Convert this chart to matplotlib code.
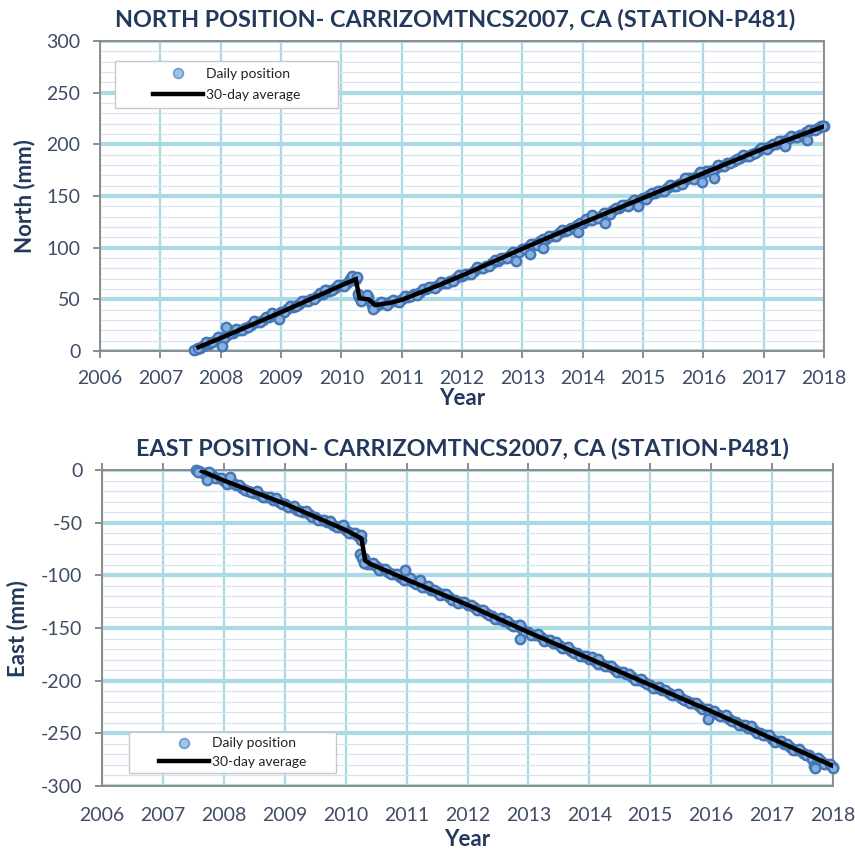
import numpy as np
import matplotlib
matplotlib.use("Agg")
import matplotlib.pyplot as plt
from matplotlib.lines import Line2D
from matplotlib.patches import Rectangle
from matplotlib.ticker import MultipleLocator

plt.rcParams['font.family'] = ['Lato', 'DejaVu Sans']

# ---------------- data ----------------
year_ticks = [2006, 2007, 2008, 2009, 2010, 2011, 2012, 2013, 2014, 2015, 2016, 2017, 2018]

# daily positions sampled every 0.1 yr (2007.6 .. 2018.0) and at the half-steps
daily_years = np.round(np.arange(2007.6, 2018.05, 0.1), 1)
daily_years_b = np.round(np.arange(2007.65, 2018.0, 0.1), 2)

north_daily = [1.5, 4.5, 7, 10,
               12.5, 15.5, 17.5, 20.5, 22.5, 25.5, 28, 30, 33, 35,
               38, 40.5, 43, 45.5, 48, 50.5, 53, 55.5, 58, 60.5,
               63.5, 66, 69, 52, 50, 45, 44.5, 46, 47.5, 48.5,
               50, 52.5, 55, 57.5, 60, 61.5, 63.5, 66, 68, 70.5,
               73, 75, 77.5, 80, 82.5, 85.5, 87.5, 90, 92.5, 95,
               98.5, 101, 103.5, 106, 108.5, 111.5, 114, 116.5, 119, 121.5,
               124, 126.5, 129, 131, 133.5, 136, 138.5, 141, 143, 145.5,
               148, 150.5, 153, 155, 157.5, 160, 162, 165, 167, 169.5,
               172, 174.5, 176.5, 179, 181.5, 184, 186.5, 189, 191, 193.5,
               196, 198, 200.5, 203, 205, 207.5, 209.5, 211.5, 213.5, 215.5, 217.5]

north_daily_b = [2.8, 8.8, 8.3, 13.3,
                 12.3, 17.9, 20.9, 20.4, 23.4, 28.9, 28, 33, 36.5, 36,
                 37.5, 43.5, 43.6, 48.5, 48.1, 50, 55.7, 59.2, 58.7, 63.7,
                 63.2, 69.3, 70, 49, 52, 42.5, 47, 45, 49, 47.5,
                 53, 53, 54.5, 60, 62, 60.5, 66.5, 66, 68, 74,
                 75, 75, 81, 80.5, 82, 88, 90, 90, 96, 96,
                 98.5, 104, 103, 108.5, 111.5, 111.5, 117.5, 117, 119, 124,
                 127.5, 126.5, 129, 134, 133, 138.5, 141.5, 140.5, 146.5, 146,
                 147, 153, 155, 155, 161, 160, 162, 167.5, 166.5, 172,
                 174.5, 174, 180, 179.5, 181.5, 186, 189.5, 188.5, 191.5, 196.5,
                 195, 200.5, 203.5, 202.5, 208.5, 207.5, 209, 214, 213.5, 217.5]

north_extra_years = [2007.55, 2007.62, 2008.03, 2008.09, 2008.96, 2009.73, 2010.18, 2010.26,
                     2010.28, 2010.33, 2010.42, 2010.53, 2012.89, 2013.13, 2013.35, 2013.93,
                     2014.15, 2014.37, 2014.92, 2015.70, 2015.94, 2015.97, 2016.18, 2017.35,
                     2017.71, 2017.99]
north_extra = [0.5, 3, 5, 23, 31, 59, 73, 72,
               55, 48, 54, 41, 87, 94, 100, 115,
               131.5, 124, 140, 167.5, 173.5, 164, 167, 198,
               204, 218]

east_daily = [-1, -3, -5, -7.5,
              -10, -12, -14.5, -17, -19.5, -22, -24, -26, -28.5, -30.5,
              -32, -35, -37.5, -40, -42, -44.5, -47, -49.5, -52, -54.5,
              -57, -60, -63, -84, -89, -91.5, -94, -96.5, -99, -101.5,
              -104, -106.5, -108.5, -111, -113.5, -116, -118, -120.5, -123, -125.5,
              -128, -130.5, -133, -135.5, -138.5, -141, -143.5, -146, -148.5, -151,
              -154, -156.5, -159, -161.5, -164, -166.5, -169, -171.5, -174, -176.5,
              -179, -181.5, -184, -186.5, -189, -191.5, -194, -196.5, -199, -201.5,
              -204, -206.5, -209, -211.5, -214, -216.5, -219, -221.5, -224, -226.5,
              -229, -231.5, -234, -236.5, -239.5, -242, -244.5, -247, -249.5, -252,
              -255, -257.5, -260, -263, -265.5, -268.5, -271, -274, -276.5, -279.5, -282]

east_daily_b = [-2.7, -1.8, -7.2, -7.3,
                -13.1, -12.3, -14, -19.2, -20.9, -20.1, -25.8, -25.5, -26.7, -31.9,
                -35.2, -34.2, -39.2, -39.2, -44.7, -47.7, -47.2, -48.7, -54.2, -54.2,
                -60, -59.5, -66, -89.5, -88.5, -95, -94, -99, -99, -104.5,
                -103, -108.5, -111.5, -110.5, -113.5, -119, -118, -123, -126, -125,
                -128, -133, -132.5, -138, -141.5, -140.5, -143.5, -148.5, -147.5, -153.5,
                -156.5, -156, -162, -161.5, -163.5, -169, -168, -173.5, -176.5, -176.5,
                -178, -184, -186, -186, -192, -191.5, -193.5, -199, -198, -203.5,
                -207, -206, -209, -214, -213, -218.5, -221.5, -221, -227, -226.5,
                -228.5, -234, -233, -238.5, -242, -242, -243.5, -249.5, -251.5, -251.5,
                -258, -257.5, -260, -265.5, -265, -270.5, -274, -273.5, -279, -279.5]

east_extra_years = [2007.55, 2007.58, 2007.72, 2008.10, 2009.96, 2010.25, 2010.24, 2010.27,
                    2010.30, 2010.97, 2011.22, 2012.86, 2012.86, 2014.14, 2015.95, 2017.68,
                    2017.70, 2018.0]
east_extra = [0, -1.5, -9.5, -6.5, -52, -62, -80, -84,
              -88, -95, -104, -147, -160, -179, -236, -281,
              -283, -282.5]

# 30-day averages
north_avg_years = [2007.63, 2008.0, 2008.5, 2009.0, 2009.5, 2010.0, 2010.24, 2010.30, 2010.45,
                   2010.56, 2010.8, 2011.0, 2011.5, 2012.0, 2012.5, 2013.0, 2013.5, 2014.0,
                   2014.5, 2015.0, 2015.5, 2016.0, 2016.5, 2017.0, 2017.5, 2017.98]
north_avg = [3.6, 12.5, 25, 37.5, 50.5, 63.5, 69.5, 51, 50,
             44.5, 46.5, 49.5, 61, 73, 86, 99, 111.5, 124,
             136, 148, 160, 172, 184, 196, 206.5, 217]

east_avg_years = [2007.64, 2008.0, 2008.5, 2009.0, 2009.5, 2010.0, 2010.26, 2010.32, 2010.40,
                  2011.0, 2011.5, 2012.0, 2012.5, 2013.0, 2013.5, 2014.0, 2014.5, 2015.0,
                  2015.5, 2016.0, 2016.5, 2017.0, 2017.5, 2018.0]
east_avg = [-1, -10, -21, -32, -44.5, -57, -65, -86, -89,
            -104, -116, -128, -141, -154, -166.5, -179, -191.5, -204,
            -216.5, -229, -242, -255, -268, -281]

# ---------------- style ----------------
TITLE_C = '#23395b'
TICK_C = '#3e4c66'
MFACE = '#86b0de'
MEDGE = '#4576b5'

fig = plt.figure(figsize=(8.55, 8.52), dpi=100)
ax1 = fig.add_axes([100/855, 1-351/852, 724/855, 310/852])
ax2 = fig.add_axes([102/855, 1-786/852, 731/855, 316/852])


def style(ax, ylim, yticks):
    ax.set_xlim(2006, 2018)
    ax.set_ylim(*ylim)
    ax.set_xticks(year_ticks)
    ax.set_xticklabels([str(y) for y in year_ticks])
    ax.set_yticks(yticks)
    ax.set_yticklabels([str(v) for v in yticks])
    ax.yaxis.set_minor_locator(MultipleLocator(10))
    ax.grid(which='minor', axis='y', color='#dae2f0', lw=0.9, zorder=0)
    ax.grid(which='major', axis='y', color='#acd9e6', lw=3.0, zorder=0)
    ax.grid(which='major', axis='x', color='#acd9e6', lw=1.7, zorder=0)
    ax.set_axisbelow(True)
    for s in ax.spines.values():
        s.set_color('#8c8c8c')
        s.set_linewidth(1.4)
    ax.tick_params(which='minor', left=False, bottom=False, top=False)
    ax.tick_params(which='major', colors='#8c8c8c', labelcolor=TICK_C,
                   labelsize=14, length=5, width=1.4)
    ax.tick_params(axis='y', pad=9)


def draw(ax, yd, yd_b, ex_y, ex_v, ay, av):
    kw = dict(linestyle='none', marker='o', ms=6.8, mfc=MFACE, mec=MEDGE,
              mew=1.7, zorder=3, clip_on=False)
    ax.plot(daily_years, yd, **kw)
    ax.plot(daily_years_b, yd_b, **kw)
    ax.plot(ex_y, ex_v, **kw)
    ax.plot(ay, av, color='black', lw=3.2, zorder=4, solid_joinstyle='miter')


def legend(ax, x0, y0, x1, y1, spacing):
    ax.add_patch(Rectangle((x0, y0), x1 - x0, y1 - y0, transform=ax.transAxes,
                           facecolor='white', edgecolor='#c8c8c8', lw=1.0, zorder=6))
    handles = [Line2D([], [], linestyle='none', marker='o', ms=7, mfc='#9dc3e6', mec='#6a9bd1', mew=1.2),
               Line2D([], [], color='black', lw=3.2)]
    leg = ax.legend(handles, ['Daily position', '30-day average'], loc='center',
                    bbox_to_anchor=((x0 + x1) / 2, (y0 + y1) / 2), bbox_transform=ax.transAxes,
                    frameon=False, fontsize=10, handlelength=3.6, handletextpad=0.2,
                    labelspacing=spacing, borderpad=0.0)
    leg.set_zorder(7)
    for t in leg.get_texts():
        t.set_color('#222222')


# top chart
style(ax1, (0, 300), [0, 50, 100, 150, 200, 250, 300])
ax1.tick_params(axis='x', pad=9, length=5)
draw(ax1, north_daily, north_daily_b, north_extra_years, north_extra, north_avg_years, north_avg)
legend(ax1, 0.0207, 0.7839, 0.3287, 0.9355, 0.7)

# bottom chart
style(ax2, (-300, 0), [-300, -250, -200, -150, -100, -50, 0])
ax2.tick_params(axis='x', top=True, bottom=False, labeltop=False, labelbottom=True,
                direction='out', length=5, pad=10)
draw(ax2, east_daily, east_daily_b, east_extra_years, east_extra, east_avg_years, east_avg)
legend(ax2, 0.0369, 0.0411, 0.3201, 0.1709, 0.45)

# titles and labels
fig.text(455/855, 1-20/852, 'NORTH POSITION- CARRIZOMTNCS2007, CA (STATION-P481)',
         ha='center', va='center', fontsize=16.8, fontweight='bold', color=TITLE_C)
fig.text(462/855, 1-448/852, 'EAST POSITION- CARRIZOMTNCS2007, CA (STATION-P481)',
         ha='center', va='center', fontsize=16.8, fontweight='bold', color=TITLE_C)
fig.text(25/855, 1-196/852, 'North (mm)', rotation=90, ha='center', va='center',
         fontsize=16, fontweight='bold', color=TITLE_C)
fig.text(18/855, 1-629/852, 'East (mm)', rotation=90, ha='center', va='center',
         fontsize=16, fontweight='bold', color=TITLE_C)
fig.text(462/855, 1-399/852, 'Year', ha='center', va='center',
         fontsize=16, fontweight='bold', color=TITLE_C)
fig.text(467/855, 1-839/852, 'Year', ha='center', va='center',
         fontsize=16, fontweight='bold', color=TITLE_C)

fig.savefig('out.png', dpi=100, facecolor='white')
